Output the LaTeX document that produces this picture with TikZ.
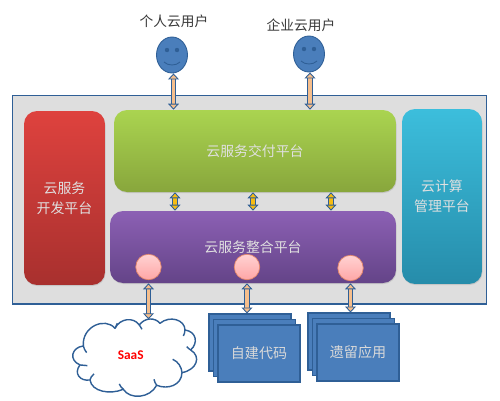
\documentclass[tikz,border=0pt]{standalone}
\usepackage{fontspec}
\setmainfont{Liberation Sans}
\newfontfamily\cjk{Noto Sans CJK SC}
\newfontfamily\latinlabel{Carlito}
\usetikzlibrary{arrows.meta,shapes.geometric,shadows,calc}
\definecolor{edgeblue}{HTML}{2F5F96}
\definecolor{fillblue}{HTML}{4A7EBB}
\definecolor{linkorange}{HTML}{F5BE8C}
\definecolor{linkyellow}{HTML}{F7BC12}
\tikzset{
  x=0.02cm,y=-0.02cm,
  panel/.style={rounded corners=2.6mm,inner sep=0pt,text=white!88!black,align=center,
     font=\cjk\fontsize{7.9}{11.4}\selectfont,drop shadow={opacity=0.25,shadow xshift=0.3pt,shadow yshift=-0.6pt}},
  usertext/.style={font=\cjk\fontsize{7.8}{9}\selectfont,text=black!78,inner sep=0pt},
  face/.style={ellipse,draw=edgeblue,line width=0.5pt,fill=fillblue,minimum width=0.62cm,minimum height=0.72cm,inner sep=0pt},
  ball/.style={circle,draw=red!35!brown!70,line width=0.4pt,top color=pink!70!white,bottom color=red!35!white,minimum size=0.51cm,inner sep=0pt},
  blockbox/.style={draw=edgeblue,line width=0.6pt,fill=fillblue,minimum width=1.64cm,minimum height=1.14cm,inner sep=0pt,text=white!85!black,font=\cjk\fontsize{8}{9}\selectfont},
  tipped/.style={double=#1,double distance=2pt,draw=edgeblue,line width=0.55pt,
     {Triangle[length=3.4pt,width=6.2pt,fill=#1,color=edgeblue,line width=0.5pt]}-{Triangle[length=3.4pt,width=6.2pt,fill=#1,color=edgeblue,line width=0.5pt]}},
  orangelink/.style={tipped=linkorange},
  yellowlink/.style={tipped=linkyellow},
  cloudline/.style={draw=edgeblue,line width=0.8pt,line join=round},
}
\begin{document}
\begin{tikzpicture}
\useasboundingbox (0,0) rectangle (500,400);
\fill[white] (0,0) rectangle (500,400);
\node[draw=edgeblue,line width=0.6pt,fill=black!13,minimum width=9.5cm,minimum height=4.18cm,inner sep=0pt] (frame) at (249.5,199.5) {};

\node[panel,minimum width=1.62cm,minimum height=3.48cm,
      top color={rgb,255:red,222;green,66;blue,62},bottom color={rgb,255:red,168;green,48;blue,46}] (dev) at (64.5,198) {云服务\\开发平台};
\node[panel,minimum width=5.64cm,minimum height=1.64cm,
      top color={rgb,255:red,170;green,212;blue,80},bottom color={rgb,255:red,136;green,166;blue,60}] (deliver) at (255,151) {云服务交付平台};
\node[panel,minimum width=5.72cm,minimum height=1.44cm,
      top color={rgb,255:red,140;green,96;blue,180},bottom color={rgb,255:red,100;green,68;blue,136}] (integrate) at (253,247) {云服务整合平台};
\node[panel,minimum width=1.6cm,minimum height=3.5cm,
      top color={rgb,255:red,60;green,190;blue,220},bottom color={rgb,255:red,38;green,140;blue,170}] (mgmt) at (442,196.5) {云计算\\管理平台};

\node[ball] (b1) at (148.5,267) {};
\node[ball] (b2) at (247,267) {};
\node[ball] (b3) at (350.5,268) {};

% users
\node[usertext] (u1) at (174,21) {个人云用户};
\node[usertext] (u2) at (301,25) {企业云用户};
\node[face] (f1) at (172,55) {};
\node[face] (f2) at (309,54) {};
\foreach \f in {f1,f2}{
  \fill[edgeblue] ($(\f.center)+(-5,-5)$) circle (2.2);
  \fill[edgeblue] ($(\f.center)+(5,-5)$) circle (2.2);
  \draw[edgeblue,line width=0.5pt] ($(\f.center)+(-8,7)$) .. controls ($(\f.center)+(-4,11)$) and ($(\f.center)+(4,11)$) .. ($(\f.center)+(8,7)$);
}

% blocks
\node[blockbox] (r1) at (250,342.5) {};
\node[blockbox] (m1) at (254.5,348) {};
\node[blockbox] (d1) at (259,353.5) {自建代码};
\node[blockbox] (r2) at (349,341.5) {};
\node[blockbox] (m2) at (353.5,347) {};
\node[blockbox] (d2) at (358,352.5) {遗留应用};

% cloud
\begin{scope}[x=0.02cm/3,y=-0.02cm/3,yshift=-5.2cm]
\path[cloudline,fill=white]
  (240,315) .. controls (205,300) and (215,262) .. (250,258)
  .. controls (245,200) and (315,170) .. (345,205)
  .. controls (360,175) and (400,170) .. (418,195)
  .. controls (435,172) and (465,172) .. (480,190)
  .. controls (510,165) and (555,180) .. (555,210)
  .. controls (590,215) and (595,250) .. (572,270)
  .. controls (605,290) and (590,330) .. (546,338)
  .. controls (545,375) and (505,390) .. (470,376)
  .. controls (450,415) and (390,420) .. (370,388)
  .. controls (330,405) and (275,395) .. (270,360)
  .. controls (240,365) and (220,340) .. (240,315) -- cycle;
\draw[cloudline] (240,315) -- (262,317);
\draw[cloudline] (250,258) .. controls (252,266) and (255,272) .. (260,278);
\draw[cloudline] (345,205) .. controls (348,198) and (350,195) .. (352,190);
\draw[cloudline] (418,195) .. controls (420,200) and (423,204) .. (426,208);
\draw[cloudline] (555,210) .. controls (555,218) and (552,224) .. (550,228);
\draw[cloudline] (572,270) .. controls (568,268) and (564,264) .. (560,260);
\draw[cloudline] (546,338) .. controls (545,322) and (535,305) .. (518,298);
\draw[cloudline] (470,376) .. controls (466,370) and (463,364) .. (462,358);
\draw[cloudline] (370,388) .. controls (365,384) and (360,378) .. (358,372);
\draw[cloudline] (270,360) .. controls (272,352) and (275,348) .. (282,342);
\coordinate (cloudtop) at (448,178);
\node[font=\latinlabel\bfseries\fontsize{7.6}{9}\selectfont,text=red,inner sep=0pt] (saas) at (392,287) {SaaS};
\end{scope}

% connector columns
\coordinate (ca) at (173.5,0);
\coordinate (cb) at (310,0);
\coordinate (cc) at (175,0);
\coordinate (cd) at (253,0);
\coordinate (ce) at (331,0);
\draw[orangelink] (ca |- f1.south) -- (ca |- deliver.north);
\draw[orangelink] (cb |- f2.south) -- (cb |- deliver.north);
\draw[yellowlink] (cc |- deliver.south) -- (cc |- integrate.north);
\draw[yellowlink] (cd |- deliver.south) -- (cd |- integrate.north);
\draw[yellowlink] (ce |- deliver.south) -- (ce |- integrate.north);
\draw[orangelink] (b1.south |- integrate.south) -- (b1.south |- cloudtop);
\draw[orangelink] (b2.south |- integrate.south) -- (b2.south |- r1.north);
\draw[orangelink] (b3.south |- integrate.south) -- (b3.south |- r2.north);
\end{tikzpicture}
\end{document}
